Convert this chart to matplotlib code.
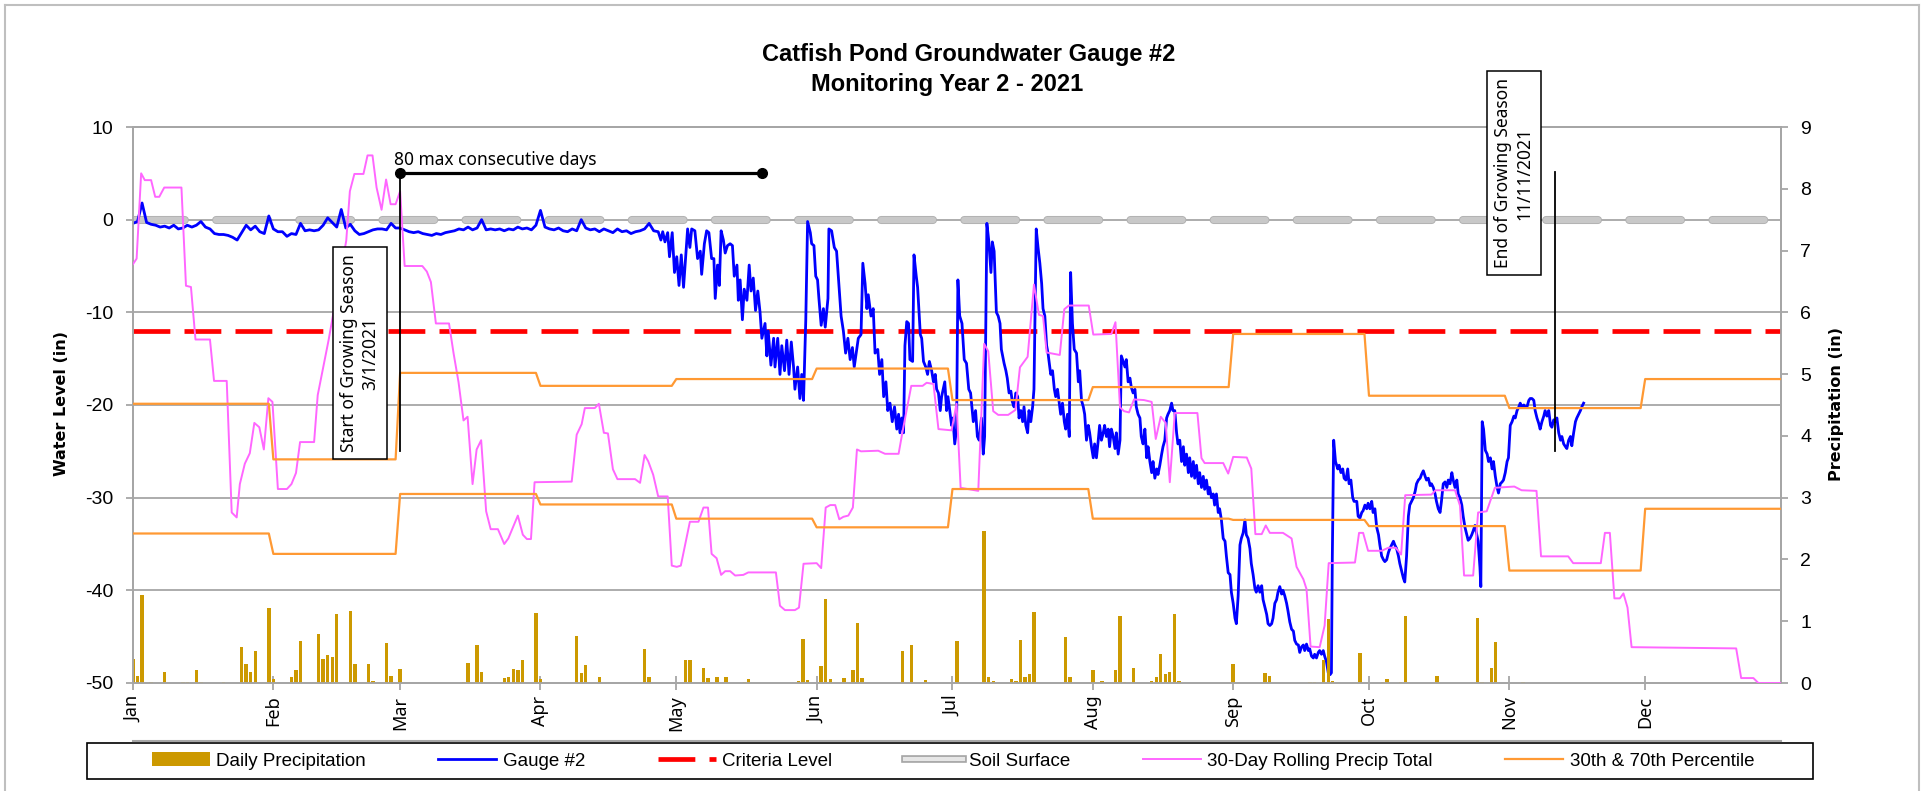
import numpy as np
import matplotlib
matplotlib.use('Agg')
import matplotlib.pyplot as plt
import matplotlib.patheffects as pe
from matplotlib.lines import Line2D
from matplotlib.patches import Patch, Rectangle

plt.rcParams['font.family'] = ['Liberation Sans', 'DejaVu Sans']
plt.rcParams['axes.unicode_minus'] = False

# ---------------- DATA ----------------
months = ['Jan', 'Feb', 'Mar', 'Apr', 'May', 'Jun', 'Jul', 'Aug', 'Sep', 'Oct', 'Nov', 'Dec']
month_start = [0, 31, 59, 90, 120, 151, 181, 212, 243, 273, 304, 334]   # day of year (0 = Jan 1)
days_in_month = [31, 28, 31, 30, 31, 30, 31, 31, 30, 31, 30, 31]

# monthly 30th / 70th percentile of 30-day precip (in)
pct70 = [4.52, 3.62, 5.02, 4.81, 4.92, 5.09, 4.58, 4.79, 5.65, 4.65, 4.45, 4.92]
pct30 = [2.42, 2.09, 3.06, 2.89, 2.66, 2.52, 3.14, 2.66, 2.64, 2.54, 1.82, 2.82]

# daily precipitation (in), day of year -> amount
rain_day = [0, 1, 2, 4, 7, 11, 12, 14, 15, 20, 24, 25, 26, 27, 30, 31, 35, 36, 37, 41,
            42, 43, 44, 45, 48, 49, 52, 53, 56, 57, 59, 73, 74, 76, 77, 82, 83, 84, 85, 86,
            89, 90, 98, 99, 100, 103, 113, 114, 122, 123, 126, 127, 129, 131, 135, 136, 147, 148, 149, 152,
            153, 154, 157, 159, 160, 161, 170, 172, 175, 182, 188, 189, 190, 194, 195, 196, 197, 198, 199, 206,
            207, 212, 214, 217, 218, 219, 221, 225, 226, 227, 228, 229, 230, 231, 243, 250, 251, 260, 261, 263,
            264, 265, 271, 276, 277, 280, 281, 288, 297, 298, 300, 301, 307]
rain_in = [0.39, 0.12, 1.43, 0.02, 0.18, 0.02, 0.02, 0.21, 0.02, 0.02, 0.59, 0.31, 0.18, 0.51, 1.21, 0.06, 0.09, 0.21, 0.68, 0.80,
           0.39, 0.46, 0.42, 1.12, 1.17, 0.30, 0.31, 0.03, 0.65, 0.12, 0.22, 0.02, 0.33, 0.61, 0.18, 0.08, 0.10, 0.22, 0.21, 0.38,
           1.14, 0.06, 0.76, 0.16, 0.29, 0.10, 0.55, 0.10, 0.37, 0.37, 0.24, 0.08, 0.09, 0.10, 0.02, 0.06, 0.03, 0.71, 0.05, 0.28,
           1.36, 0.06, 0.08, 0.21, 0.97, 0.08, 0.52, 0.62, 0.05, 0.68, 2.46, 0.09, 0.03, 0.06, 0.04, 0.69, 0.10, 0.15, 1.15, 0.75,
           0.09, 0.21, 0.03, 0.21, 1.08, 0.02, 0.24, 0.04, 0.09, 0.47, 0.15, 0.18, 1.11, 0.04, 0.31, 0.16, 0.12, 0.02, 0.02, 0.37,
           1.04, 0.04, 0.49, 0.02, 0.06, 0.02, 1.08, 0.12, 1.06, 0.02, 0.24, 0.66, 0.02]

# 30-day rolling precip total (in), (day, value)
rolling_total = [
    (0, 6.78), (0.8, 6.87), (1.8, 8.25), (2.6, 8.14), (4.0, 8.14), (4.9, 7.87), (5.8, 7.87), (6.9, 8.02),
    (10.7, 8.02), (11.7, 6.43), (12.8, 6.41), (13.8, 5.56), (17.0, 5.56), (17.9, 4.89), (20.7, 4.89),
    (21.8, 2.76), (22.9, 2.68), (23.6, 3.22), (24.7, 3.55), (25.8, 3.72), (26.8, 4.21), (27.9, 4.14),
    (28.9, 3.78), (29.9, 4.61), (30.8, 4.55), (32.0, 3.14), (34.0, 3.14), (35.0, 3.22), (36.0, 3.40),
    (36.9, 3.90), (40.0, 3.90), (40.8, 4.66), (43.2, 5.55), (47.1, 7.16), (47.9, 7.96), (48.9, 8.24),
    (50.9, 8.24), (51.8, 8.54), (52.9, 8.54), (53.8, 8.02), (54.9, 7.66), (55.9, 8.15), (56.9, 7.75),
    (58.0, 7.75), (59.0, 7.96), (60.0, 6.75), (63.9, 6.75), (64.9, 6.66), (65.8, 6.49), (66.9, 5.82),
    (69.8, 5.82), (70.8, 5.34), (71.9, 4.87), (73.0, 4.25), (73.9, 4.31), (75.0, 3.22), (75.9, 3.78),
    (76.9, 3.93), (78.0, 2.78), (79.0, 2.49), (80.6, 2.49), (82.0, 2.25), (82.9, 2.34), (85.0, 2.71),
    (86.1, 2.40), (87.0, 2.33), (87.9, 2.33), (88.7, 3.25), (96.9, 3.26), (98.0, 4.02), (99.1, 4.19),
    (99.8, 4.45), (102.0, 4.45), (102.9, 4.52), (104.0, 4.05), (104.9, 4.04), (106.0, 3.46), (107.0, 3.30),
    (110.9, 3.30), (112.0, 3.24), (113.0, 3.69), (113.8, 3.59), (114.9, 3.37), (116.0, 3.02), (118.1, 3.02),
    (119.0, 1.90), (120.1, 1.88), (121.0, 1.90), (123.0, 2.61), (124.9, 2.61), (126.0, 2.84), (127.0, 2.84),
    (127.8, 2.09), (128.9, 2.02), (129.9, 1.75), (130.8, 1.81), (131.9, 1.81), (133.0, 1.74), (134.8, 1.75),
    (135.9, 1.79), (142.0, 1.79), (142.9, 1.25), (144.0, 1.18), (146.2, 1.18), (147.1, 1.22), (148.1, 1.93),
    (151.0, 1.94), (152.0, 1.86), (153.0, 2.84), (154.0, 2.88), (155.1, 2.88), (156.0, 2.65), (156.9, 2.69),
    (158.0, 2.71), (159.0, 2.84), (159.9, 3.78), (160.8, 3.75), (164.6, 3.76), (166.1, 3.71), (169.1, 3.71),
    (170.0, 4.08), (171.9, 4.81), (174.4, 4.81), (175.3, 4.86), (176.8, 4.84), (177.9, 4.11), (180.8, 4.09),
    (181.9, 4.52), (182.8, 3.16), (186.7, 3.11), (188.0, 5.49), (188.9, 5.37), (190.0, 4.40), (191.1, 4.34),
    (193.3, 4.34), (194.9, 4.42), (195.9, 5.11), (197.6, 5.28), (199.0, 6.45), (200.1, 5.96), (201.0, 5.94),
    (201.8, 5.35), (204.7, 5.31), (205.7, 6.05), (206.7, 6.11), (211.1, 6.11), (212.1, 5.64), (216.1, 5.65),
    (217.0, 5.84), (218.0, 4.46), (218.9, 4.40), (220.0, 4.38), (221.1, 4.59), (223.3, 4.58), (225.0, 4.55),
    (225.9, 3.95), (227.0, 4.31), (228.1, 4.21), (229.0, 3.25), (230.1, 4.37), (235.1, 4.37), (236.0, 3.64),
    (236.7, 3.56), (240.8, 3.56), (241.9, 3.39), (243.0, 3.66), (246.0, 3.65), (247.0, 3.47), (247.9, 2.41),
    (249.3, 2.41), (250.2, 2.55), (251.1, 2.43), (254.0, 2.43), (255.9, 2.34), (257.0, 1.88), (258.5, 1.68),
    (259.2, 1.52), (260.1, 0.59), (262.1, 0.58), (263.2, 0.93), (264.1, 1.94), (269.9, 1.95), (270.8, 2.43),
    (271.7, 2.43), (272.8, 2.14), (275.8, 2.14), (277.3, 2.19), (278.9, 2.19), (280.1, 2.08), (281.0, 3.04),
    (286.8, 3.05), (287.7, 3.12), (292.0, 3.12), (293.1, 2.87), (294.0, 1.74), (296.0, 1.74), (297.1, 2.76),
    (299.0, 2.78), (300.8, 3.16), (305.1, 3.18), (306.7, 3.12), (310.0, 3.11), (311.0, 2.05), (317.0, 2.05),
    (318.1, 1.94), (324.2, 1.94), (325.1, 2.43), (326.2, 2.43), (327.2, 1.37), (328.4, 1.37), (329.2, 1.45),
    (330.1, 1.22), (331.0, 0.58), (354.1, 0.56), (355.2, 0.08), (357.9, 0.08), (359.0, 0.0), (364.0, 0.0)]

# gauge #2 water level (in), daily Jan 1 - Apr 26
gauge_daily = [-0.4, -0.2, 1.8, -0.3, -0.5, -0.6, -0.8, -0.7, -0.9, -0.6, -1.0, -0.9, -0.6, -0.8, -0.6, -0.2,
               -0.8, -1.0, -1.5, -1.6, -1.6, -1.7, -1.9, -2.2, -1.4, -0.6, -1.1, -0.7, -1.3, -1.5, 0.4, -1.0,
               -1.3, -1.3, -1.8, -1.5, -1.6, -0.4, -1.2, -1.1, -1.2, -1.1, -0.6, 0.2, -0.3, -0.8, 1.1, -0.9,
               -0.5, -1.2, -1.6, -1.5, -1.3, -1.1, -1.0, -1.0, -1.1, -0.4, -0.9, -0.9, -1.1, -1.3, -1.4, -1.3,
               -1.5, -1.6, -1.7, -1.5, -1.6, -1.4, -1.3, -1.2, -1.0, -1.1, -0.8, -1.1, -0.9, 0.0, -1.1, -1.0,
               -1.1, -1.0, -1.2, -1.0, -1.1, -0.8, -1.0, -0.9, -1.1, -0.6, 1.0, -0.8, -1.0, -1.1, -0.9, -1.2,
               -1.3, -1.0, -1.2, 0.0, -0.9, -1.1, -1.0, -1.3, -1.0, -1.2, -1.4, -1.0, -1.3, -1.2, -1.5, -1.3,
               -1.2, -1.0, -0.4, -1.2, -1.3]

# gauge #2 readings after Apr 26, (day, level)
gauge_may_jun = [
    (116.6, -2.2), (117.0, -1.3), (117.5, -2.4), (118.1, -1.4), (118.5, -4.0), (119.1, -1.4), (119.6, -5.7),
    (120.1, -4.0), (120.6, -7.1), (121.1, -3.8), (121.6, -7.3), (122.1, -3.8), (122.5, -1.0), (123.0, -3.0),
    (123.4, -1.0), (124.1, -1.2), (124.7, -4.2), (125.3, -3.4), (125.6, -5.9), (126.2, -2.6), (126.7, -1.2),
    (127.2, -1.4), (127.8, -4.2), (128.3, -4.2), (128.6, -8.5), (129.1, -4.9), (129.5, -7.1), (129.9, -1.2),
    (130.4, -2.2), (130.8, -3.6), (131.3, -2.8), (131.9, -2.6), (132.4, -2.8), (132.8, -6.1), (133.4, -4.9),
    (133.7, -8.7), (134.1, -6.5), (134.6, -10.8), (135.0, -7.5), (135.6, -8.7), (136.1, -4.9), (136.5, -7.7),
    (137.0, -6.3), (137.5, -9.8), (138.0, -7.7), (138.5, -10.0), (138.9, -12.8), (139.6, -11.2), (140.0, -14.7),
    (140.3, -12.0), (140.9, -15.7), (141.5, -12.8), (141.8, -15.9), (142.4, -12.8), (142.9, -16.7), (143.3, -13.6),
    (143.9, -16.3), (144.4, -13.0), (144.9, -16.7), (145.4, -13.2), (145.9, -15.9), (146.2, -18.3), (146.8, -15.9),
    (147.3, -19.3), (147.7, -16.7), (148.1, -19.5), (148.6, -10.8), (149.0, -0.2), (149.6, -1.4), (149.9, -2.6),
    (150.4, -2.8), (150.8, -6.1), (151.2, -6.5), (151.5, -8.5), (152.0, -11.4), (152.5, -9.6), (152.9, -11.6),
    (153.5, -8.5), (153.7, -1.0), (154.3, -1.2), (154.9, -3.0), (155.4, -3.4), (156.0, -7.7), (156.4, -10.4),
    (156.9, -12.0), (157.4, -14.4), (157.9, -12.8), (158.4, -15.1), (158.9, -13.8), (159.3, -15.9), (159.9, -13.8),
    (160.2, -12.8), (160.8, -12.4), (161.2, -4.7), (161.7, -6.9), (162.1, -9.6), (162.4, -8.1), (163.0, -10.4),
    (163.5, -9.6), (163.9, -14.4), (164.5, -14.0), (164.9, -16.7), (165.4, -15.1), (165.8, -19.1), (166.3, -17.5),
    (166.7, -20.6), (167.2, -19.8), (167.7, -21.8), (168.2, -20.2), (168.7, -22.6), (169.1, -21.0), (169.4, -23.0),
    (169.8, -21.4), (170.2, -23.0), (170.5, -13.6), (170.9, -11.0), (171.3, -11.2), (171.6, -15.1), (172.2, -15.3),
    (172.5, -3.8), (173.0, -6.1), (173.3, -7.3), (173.9, -12.4), (174.2, -12.8), (174.6, -15.3), (175.1, -15.9),
    (175.5, -16.7), (175.9, -15.3), (176.4, -16.3), (176.8, -17.5), (177.2, -16.7), (177.5, -18.3), (177.9, -18.7),
    (178.3, -20.6), (178.6, -19.1), (179.3, -17.5), (179.7, -20.6), (180.0, -19.1), (180.4, -20.6), (180.8, -22.2)]

gauge_jul_aug = [
    (181.1, -21.4), (181.5, -24.2), (181.9, -22.6), (182.2, -6.5), (182.6, -10.4), (183.1, -11.2), (183.6, -15.1),
    (184.1, -15.5), (184.6, -18.3), (185.0, -18.7), (185.6, -21.8), (186.1, -20.6), (186.5, -23.4), (186.9, -23.8),
    (187.4, -21.4), (187.8, -25.3), (188.1, -23.4), (188.6, -0.4), (189.0, -2.2), (189.5, -5.7), (189.8, -2.4),
    (190.2, -3.4), (190.7, -10.0), (191.1, -10.4), (191.5, -11.2), (191.8, -14.0), (192.4, -15.5), (192.8, -16.3),
    (193.1, -17.1), (193.5, -18.7), (193.9, -18.5), (194.2, -19.6), (194.6, -20.2), (195.0, -18.7), (195.4, -19.1),
    (195.7, -21.4), (196.1, -20.6), (196.5, -21.8), (196.8, -20.2), (197.2, -22.2), (197.6, -23.0), (197.9, -20.6),
    (198.3, -21.8), (198.7, -20.2), (199.0, -18.3), (199.5, -1.0), (199.9, -3.0), (200.3, -4.7), (200.7, -6.9),
    (201.0, -9.6), (201.4, -10.4), (201.8, -13.6), (202.1, -14.4), (202.7, -16.7), (203.1, -16.3), (203.5, -18.3),
    (203.8, -19.1), (204.2, -18.3), (204.6, -19.8), (204.9, -21.0), (205.3, -19.8), (205.7, -21.8), (206.0, -22.6),
    (206.4, -21.0), (206.8, -23.4), (207.1, -5.7), (207.5, -11.2), (207.9, -14.0), (208.4, -14.4), (208.8, -17.5),
    (209.1, -16.3), (209.5, -19.5), (209.9, -20.2), (210.2, -21.0), (210.6, -23.8), (211.0, -22.2), (211.3, -23.0),
    (211.7, -24.5), (212.1, -25.7), (212.4, -24.2), (212.8, -25.7), (213.2, -23.8), (213.5, -22.2), (213.9, -23.8),
    (214.3, -23.0), (214.6, -22.2), (215.0, -23.4), (215.4, -22.6), (215.7, -24.5), (216.1, -22.6), (216.5, -23.4),
    (216.9, -24.7), (217.2, -23.0), (217.6, -25.3), (218.0, -23.8), (218.3, -14.7), (218.7, -15.3), (219.1, -15.9),
    (219.4, -15.1), (219.8, -17.5), (220.2, -17.1), (220.5, -18.1), (220.9, -18.7), (221.3, -18.3), (221.6, -20.2),
    (222.0, -21.0), (222.4, -21.4), (222.7, -23.4), (223.1, -24.2), (223.5, -22.6), (223.9, -25.7), (224.2, -24.5),
    (224.6, -26.1), (225.0, -27.3), (225.3, -26.1), (225.7, -27.9), (226.1, -26.9), (226.4, -27.5), (226.8, -26.5),
    (227.2, -25.3), (227.5, -24.5), (227.9, -23.8), (228.3, -21.4), (228.6, -21.0), (229.0, -20.6), (229.4, -19.8),
    (229.7, -20.6), (230.1, -20.6), (230.5, -23.0), (230.8, -24.2), (231.2, -23.8), (231.6, -26.1), (232.0, -24.5),
    (232.3, -26.5), (232.7, -25.3), (233.1, -27.3), (233.4, -25.7), (233.8, -27.7), (234.2, -26.1), (234.5, -27.9),
    (234.9, -26.5), (235.3, -28.5), (235.6, -27.3), (236.0, -28.9), (236.4, -27.7), (236.7, -29.1), (237.1, -28.1),
    (237.5, -29.6), (237.8, -28.9), (238.2, -30.0), (238.6, -29.6), (238.9, -30.8), (239.3, -29.6), (239.7, -31.6),
    (240.0, -31.2), (240.4, -32.4), (240.8, -34.4), (241.2, -34.7), (241.5, -36.3), (241.9, -38.1), (242.3, -38.3),
    (242.6, -40.2)]

gauge_sep_nov = [
    (243.0, -41.4), (243.4, -43.0), (243.7, -43.6), (244.1, -40.6), (244.5, -35.1), (244.8, -34.4), (245.2, -33.8),
    (245.6, -32.4), (245.9, -34.0), (246.3, -34.4), (246.7, -35.5), (247.0, -37.1), (247.4, -38.3), (247.8, -39.8),
    (248.1, -40.2), (248.5, -39.5), (248.9, -40.2), (249.3, -39.5), (249.6, -41.0), (250.0, -41.8), (250.4, -42.6),
    (250.7, -43.6), (251.1, -43.8), (251.5, -43.6), (251.8, -43.0), (252.2, -41.4), (252.6, -41.0), (252.9, -40.2),
    (253.3, -39.6), (253.7, -40.4), (254.0, -40.0), (254.4, -40.6), (254.8, -41.4), (255.1, -42.2), (255.5, -43.4),
    (255.9, -44.2), (256.3, -44.4), (256.6, -45.4), (257.0, -45.8), (257.4, -45.9), (257.7, -46.7), (258.1, -46.1),
    (258.5, -45.9), (258.8, -46.5), (259.2, -45.8), (259.6, -46.5), (259.9, -46.3), (260.3, -47.1), (260.7, -47.3),
    (261.0, -46.9), (261.4, -47.3), (261.8, -46.7), (262.1, -46.5), (262.5, -46.9), (262.9, -46.5), (263.2, -47.1),
    (263.6, -47.7), (264.0, -48.9), (264.4, -49.1), (264.7, -48.9), (264.9, -36.3), (265.2, -23.8), (265.6, -26.1),
    (266.1, -26.9), (266.4, -26.5), (266.8, -27.3), (267.2, -26.9), (267.5, -27.9), (267.9, -28.1), (268.3, -26.9),
    (268.6, -28.5), (269.0, -28.1), (269.4, -30.0), (269.7, -30.4), (270.3, -30.4), (270.6, -32.0), (271.0, -32.2),
    (271.4, -31.6), (271.7, -31.4), (272.1, -30.8), (272.5, -31.2), (272.8, -30.6), (273.2, -31.2), (273.6, -30.4),
    (273.9, -31.6), (274.3, -31.2), (274.7, -33.2), (275.1, -34.0), (275.4, -35.1), (275.8, -36.3), (276.2, -36.7),
    (276.5, -36.9), (276.9, -36.7), (277.3, -35.9), (277.6, -35.5), (278.0, -35.1), (278.4, -34.7), (278.7, -35.1),
    (279.1, -35.5), (279.5, -36.3), (279.8, -37.1), (280.2, -37.9), (280.6, -38.7), (280.9, -39.1), (281.3, -36.3),
    (281.7, -32.0), (282.0, -30.8), (282.4, -30.4), (282.8, -30.0), (283.2, -29.3), (283.5, -28.5), (283.9, -28.1),
    (284.3, -27.9), (284.6, -27.5), (285.0, -27.1), (285.4, -27.7), (285.7, -28.1), (286.1, -27.9), (286.5, -28.7),
    (286.8, -28.5), (287.2, -28.9), (287.6, -29.6), (287.9, -30.4), (288.3, -31.2), (288.7, -31.6), (289.0, -30.4),
    (289.4, -28.5), (289.8, -28.3), (290.2, -28.9), (290.5, -28.1), (290.9, -28.5), (291.3, -27.3), (291.6, -28.1),
    (292.0, -28.9), (292.4, -28.1), (292.7, -29.6), (293.1, -30.0), (293.5, -30.8), (293.8, -32.0), (294.2, -33.2),
    (294.6, -34.0), (294.9, -34.6), (295.3, -34.4), (295.7, -34.0), (296.0, -33.6), (296.4, -33.0), (296.8, -34.0),
    (297.1, -34.7), (297.5, -37.5), (297.7, -39.6), (298.0, -21.8), (298.3, -22.6), (298.7, -24.9), (299.1, -25.3),
    (299.4, -26.1), (299.8, -25.7), (300.2, -26.9), (300.5, -26.1), (300.9, -27.7), (301.3, -28.9), (301.6, -29.5),
    (302.0, -28.5), (302.4, -28.3), (302.7, -28.1), (303.1, -27.3), (303.5, -26.1), (303.8, -25.7), (304.2, -22.2),
    (304.6, -21.8), (305.0, -21.2), (305.3, -21.4), (305.7, -20.6), (306.1, -20.2), (306.4, -19.8), (306.8, -20.2),
    (307.2, -20.0), (307.5, -20.2), (307.9, -20.2), (308.3, -19.5), (308.6, -19.3), (309.0, -19.3), (309.4, -19.5),
    (309.7, -20.6), (310.1, -21.4), (310.5, -22.0), (310.8, -22.6), (311.2, -21.8), (311.6, -21.2), (311.9, -20.6),
    (312.3, -21.2), (312.7, -20.6), (313.1, -22.2), (313.4, -22.4), (313.8, -21.6), (314.2, -21.8), (314.5, -21.4),
    (314.9, -23.0), (315.3, -23.8), (315.6, -23.4), (316.0, -24.2), (316.4, -24.5), (316.7, -24.7), (317.1, -23.8),
    (317.5, -23.4), (317.8, -24.4), (318.2, -23.0), (318.6, -21.8), (318.9, -21.4), (319.3, -21.0), (319.7, -20.6),
    (320.0, -20.2), (320.4, -19.8)]

criteria_level = -12
soil_level = 0
season_start = 59    # 3/1/2021
season_end = 314     # 11/11/2021
max_run = 80         # max consecutive days

# ---------------- BUILD SERIES ----------------
year_days = np.arange(365)
pct70_daily = np.repeat(pct70, days_in_month)
pct30_daily = np.repeat(pct30, days_in_month)

g_day = list(np.arange(len(gauge_daily)))
g_lvl = list(gauge_daily)
for seg in (gauge_may_jun, gauge_jul_aug, gauge_sep_nov):
    g_day += [d for d, v in seg]
    g_lvl += [v for d, v in seg]

roll_day = [d for d, v in rolling_total]
roll_val = [v for d, v in rolling_total]

# ---------------- FIGURE ----------------
W, H = 1927, 791
fig = plt.figure(figsize=(W / 100, H / 100), dpi=100)
ax = fig.add_axes([133 / W, 1 - 683 / H, (1781 - 133) / W, (683 - 127) / H])
ax2 = ax.twinx()

GRID = '#A6A6A6'
ax.set_xlim(0, 364)
ax.set_ylim(-50, 10)
ax2.set_ylim(0, 9)
ax.set_yticks(range(-50, 11, 10))
ax2.set_yticks(range(0, 10))
ax.grid(axis='y', color=GRID, lw=1.3, zorder=0)
ax.set_axisbelow(True)

ax.set_xticks(month_start)
ax.set_xticklabels(months, rotation=90, fontfamily='Noto Sans', fontsize=13)
ax.tick_params(axis='x', direction='inout', length=10, color=GRID, width=1.3, pad=4)
ax.tick_params(axis='y', direction='out', length=5, color=GRID, width=1.3, labelsize=14, pad=9)
ax2.tick_params(axis='y', direction='out', length=5, color=GRID, width=1.3, labelsize=14, pad=9)
for a in (ax, ax2):
    for s in a.spines.values():
        s.set_color(GRID)
        s.set_linewidth(1.3)

# primary series
ax.axhline(soil_level, color='#C8C8C8', lw=4.5, dashes=(8.3, 5.0), dash_capstyle='round',
           path_effects=[pe.Stroke(linewidth=5.8, foreground='#B0B0B0'), pe.Normal()], zorder=2)
ax.axhline(criteria_level, color='#FF0000', lw=3.4, dashes=(7.8, 3.0), zorder=3)
ax.plot(g_day, g_lvl, color='#0000FF', lw=2.0, zorder=4)

# secondary series
ax2.bar(rain_day, rain_in, width=0.75, color='#CC9900', zorder=2)
ax2.plot(roll_day, roll_val, color='#FF66FF', lw=1.4, zorder=3)
ax2.plot(year_days, pct70_daily, color='#FF9933', lw=1.6, zorder=4)
ax2.plot(year_days, pct30_daily, color='#FF9933', lw=1.6, zorder=4)

# growing season markers
T = ax.transData
ax2.plot([season_start, season_start], [5.07, -25], color='black', lw=1.3, transform=T, zorder=6)
ax2.plot([season_end, season_end], [5.1, -25], color='black', lw=1.3, transform=T, zorder=6)
ax2.plot([season_start, season_start + max_run], [5.07, 5.07], color='black', lw=2.3,
         marker='o', ms=7, transform=T, zorder=6)
ax2.text(season_start - 1.3, 5.95, f'{max_run} max consecutive days', transform=T,
         fontfamily='Noto Sans', fontsize=12.5, ha='left', va='baseline', zorder=7)
box = dict(boxstyle='square,pad=0.4', fc='white', ec='black', lw=1.1)
ax2.text(50.1, -14.4, 'Start of Growing Season\n3/1/2021', transform=T, rotation=90,
         ha='center', va='center', multialignment='center', fontfamily='Noto Sans',
         fontsize=12.5, linespacing=1.25, bbox=box, zorder=8)
ax2.text(305.0, 5.0, 'End of Growing Season\n11/11/2021', transform=T, rotation=90,
         ha='center', va='center', multialignment='center', fontfamily='Noto Sans',
         fontsize=12.5, linespacing=1.25, bbox=box, zorder=8, clip_on=False)

# titles and axis labels
fig.text(969 / W, 1 - 55 / H, 'Catfish Pond Groundwater Gauge #2', ha='center', va='center',
         fontsize=17, fontweight='bold')
fig.text(947 / W, 1 - 85 / H, 'Monitoring Year 2 - 2021', ha='center', va='center',
         fontsize=17, fontweight='bold')
fig.text(62 / W, 1 - 404 / H, 'Water Level (in)', rotation=90, ha='center', va='center',
         fontfamily='DejaVu Sans', fontweight='bold', fontsize=11.5)
fig.text(1836 / W, 1 - 404 / H, 'Precipitation (in)', rotation=90, ha='center', va='center',
         fontfamily='DejaVu Sans', fontweight='bold', fontsize=11.5)

# outer chart border and plot-area bottom line
border = '#BFBFBF'
fig.add_artist(Line2D([5 / W, 1919 / W], [1 - 5 / H, 1 - 5 / H], color=border, lw=1.5))
fig.add_artist(Line2D([5 / W, 5 / W], [0, 1 - 5 / H], color=border, lw=1.5))
fig.add_artist(Line2D([1919 / W, 1919 / W], [0, 1 - 5 / H], color=border, lw=1.5))
fig.add_artist(Line2D([133 / W, 1781 / W], [1 - 741 / H, 1 - 741 / H], color=GRID, lw=1.5))

# legend
fig.add_artist(Rectangle((87 / W, 1 - 779 / H), (1813 - 87) / W, 36 / H, fill=False,
                         ec='black', lw=1.2, transform=fig.transFigure))
handles = [
    Patch(facecolor='#CC9900'),
    Line2D([], [], color='#0000FF', lw=2.0),
    Line2D([], [], color='#FF0000', lw=3.4, dashes=(7.8, 3.0)),
    Line2D([], [], color='#E6E6E6', lw=3.0,
           path_effects=[pe.Stroke(linewidth=5.5, foreground='#A6A6A6'), pe.Normal()]),
    Line2D([], [], color='#FF66FF', lw=1.4),
    Line2D([], [], color='#FF9933', lw=1.6),
]
labels = ['Daily Precipitation', 'Gauge #2', 'Criteria Level', 'Soil Surface',
          '30-Day Rolling Precip Total', '30th & 70th Percentile']
fig.legend(handles, labels, loc='center', bbox_to_anchor=(953 / W, 1 - 761 / H), ncol=6,
           frameon=False, fontsize=13.5, handlelength=3.1, handletextpad=0.35,
           columnspacing=3.85, borderpad=0)

fig.savefig('out.png', dpi=100)
